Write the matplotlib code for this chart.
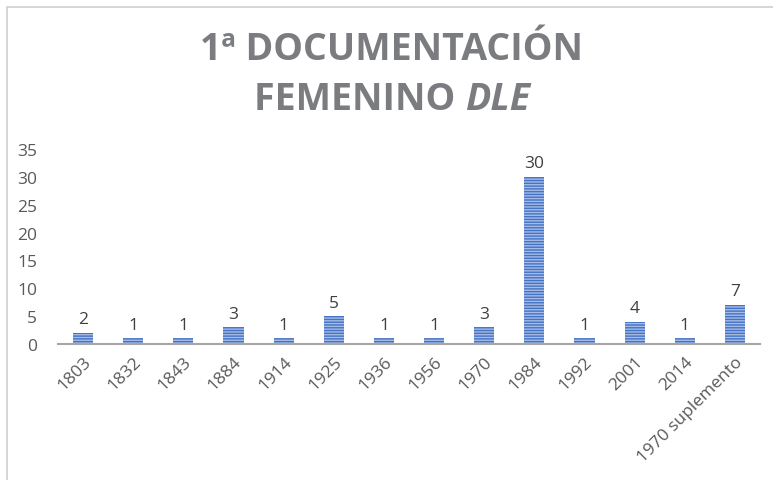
import matplotlib.pyplot as plt
from matplotlib.patches import Rectangle

categories = ['1803', '1832', '1843', '1884', '1914', '1925', '1936', '1956',
              '1970', '1984', '1992', '2001', '2014', '1970 suplemento']
values = [2, 1, 1, 3, 1, 5, 1, 1, 3, 30, 1, 4, 1, 7]

plt.rcParams['font.family'] = ['Open Sans', 'DejaVu Sans']
plt.rcParams['hatch.linewidth'] = 1.0

W, H = 773, 481
fig = plt.figure(figsize=(W / 100, H / 100), dpi=100)

# outer frame of the original chart area
fig.patches.append(Rectangle((7 / W, -0.1), 1.2, 1 - 8 / H + 0.1, transform=fig.transFigure,
                             fill=False, edgecolor='#d0d0d0', linewidth=1.2))

ax = fig.add_axes([58 / W, 1 - 345 / H, 702 / W, 195 / H])
x = range(len(categories))
bars = ax.bar(x, values, width=0.4, color='#4472c4', edgecolor='#a5bce6',
              hatch='------', linewidth=0)
for b, v in zip(bars, values):
    ax.text(b.get_x() + b.get_width() / 2, v + 1.0, str(v), ha='center', va='bottom',
            fontsize=12.5, color='#404040')

ax.set_xlim(-0.5, len(categories) - 0.5)
ax.set_ylim(0, 35)
ax.set_yticks(range(0, 36, 5))
ax.set_xticks(list(x))
ax.set_xticklabels(categories, rotation=45, ha='right', va='top', rotation_mode='anchor')
ax.tick_params(axis='both', length=0, labelsize=12.5, colors='#595959')
ax.tick_params(axis='x', pad=7)
ax.tick_params(axis='y', pad=15)
for s in ['top', 'right', 'left']:
    ax.spines[s].set_visible(False)
ax.spines['bottom'].set_color('#a6a6a6')
ax.spines['bottom'].set_linewidth(1.5)

title_kw = dict(fontsize=27, fontweight='bold', color='#7b7c80', va='center')
fig.text(391 / W, 1 - 50 / H, '1ª DOCUMENTACIÓN', ha='center', **title_kw)

# second title line, with the italic part measured to stay centred
r = fig.canvas.get_renderer()
t1 = fig.text(0, 1 - 100 / H, 'FEMENINO ', ha='left', **title_kw)
t2 = fig.text(0, 1 - 100 / H, 'DLE', ha='left', style='italic', **title_kw)
w1 = t1.get_window_extent(r).width
w2 = t2.get_window_extent(r).width
x0 = 392 - (w1 + w2) / 2
t1.set_x(x0 / W)
t2.set_x((x0 + w1) / W)

fig.savefig('out.png', dpi=100)
